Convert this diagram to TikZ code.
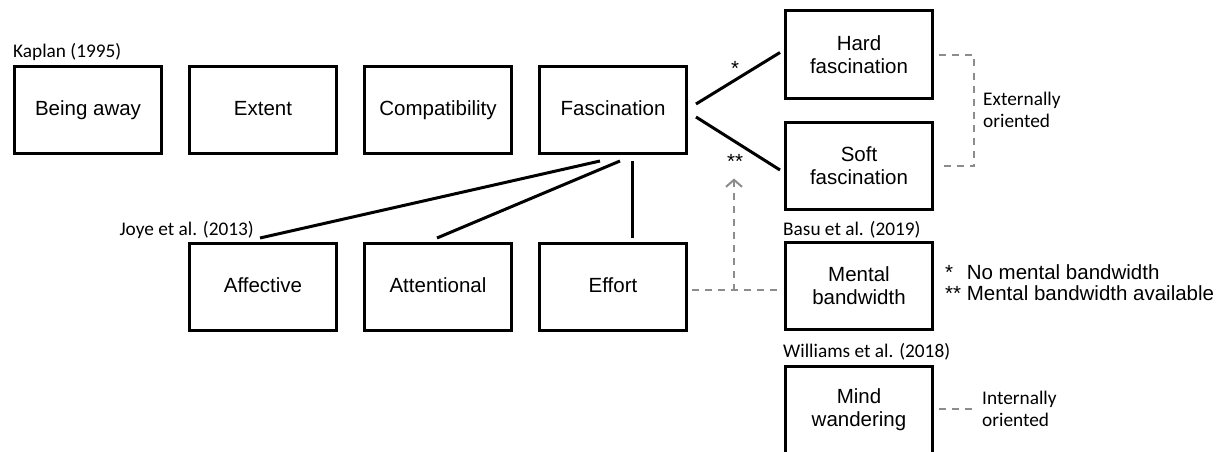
\documentclass[tikz,border=0pt]{standalone}
\usepackage{fontspec}
\setmainfont{Liberation Sans}
\newfontfamily\calfont{Carlito}
\usetikzlibrary{calc,arrows.meta}
\definecolor{dgray}{HTML}{8C8C8C}
\begin{document}
\begin{tikzpicture}[x=1pt,y=-1pt,
  box/.style={draw,line width=3pt,minimum width=147pt,minimum height=87pt,inner sep=0pt,align=center,font=\fontsize{20.5}{23}\selectfont},
  one/.style={text height=15pt,text depth=4pt},
  conn/.style={line width=3pt},
  dsh/.style={draw=dgray,line width=2pt,dash pattern=on 7pt off 6pt},
  lbl/.style={inner sep=0pt,font=\calfont\fontsize{19.3}{22}\selectfont},
  note/.style={inner sep=0pt,font=\fontsize{20.5}{21}\selectfont}]
\useasboundingbox (0,0) rectangle (1220,452);
\clip (0,0) rectangle (1220,452);
% boxes
\node[box,one] (ba) at (88,110) {Being away};
\node[box,one] (ext) at (263,110) {Extent};
\node[box,one] (comp) at (438,110) {Compatibility};
\node[box,one] (fas) at (613,110) {Fascination};
\node[box] (hard) at (859,54.5) {Hard\\fascination};
\node[box] (soft) at (859,166) {Soft\\fascination};
\node[box,one] (aff) at (263,287) {Affective};
\node[box,one] (att) at (438,287) {Attentional};
\node[box,one] (eff) at (613,287) {Effort};
\node[box] (mb) at (859,286) {Mental\\bandwidth};
\node[box] (mw) at (859,410) {Mind\\wandering};
% labels
\node[lbl,anchor=base west] (kap) at (13,58) {Kaplan (1995)};
\node[lbl,anchor=base east] (joy) at (254,235) {Joye et al. (2013)};
\node[lbl,anchor=base west] (bas) at (783,235) {Basu et al. (2019)};
\node[lbl,anchor=base west] (wil) at (783,357) {Williams et al. (2018)};
\node[note,anchor=base] (st1) at (735,75.5) {*};
\node[note,anchor=base] (st2) at (735,168.5) {**};
\node[lbl,anchor=base west,align=left] (exo) at (983,127) {Externally\\oriented};
\node[lbl,anchor=base west,align=left] (intl) at (982,426) {Internally\\oriented};
\node[note,anchor=base west] (n1) at (945,279) {\begin{tabular}[t]{@{}l@{ }l@{}}* & No mental bandwidth\\[0pt]** & Mental bandwidth available\end{tabular}};
% connectors
\draw[conn] ($(fas.east)+(8,-6)$) -- ($(hard.west)+(-4,-2)$);
\draw[conn] ($(fas.east)+(8,7)$) -- ($(soft.west)+(-4,4)$);
\draw[conn] ($(fas.south)+(-13,6)$) -- ($(aff.north)+(-3,-4)$);
\draw[conn] ($(fas.south)+(7,6)$) -- ($(att.north)+(-1,-4)$);
\draw[conn] ($(fas.south)+(19,6)$) -- ($(eff.north)+(19,-4)$);
% dashed
\draw[dsh] ($(hard.east)+(5,1)$) -| ($(soft.east)+(40,0)$) -- ($(soft.east)+(5,0)$);
\draw[dsh] ($(eff.east)+(4,3)$) -- ($(mb.west)+(-4,4)$);
\coordinate (jn) at ($(eff.east)!0.5!(mb.west)+(-2,4)$);
\coordinate (tip) at ($(jn)+(0,-112)$);
\draw[dsh,-{Straight Barb[length=7pt,width=16pt,line width=2pt]}] (jn) -- (tip);
\draw[dsh] ($(mw.east)+(5,-1)$) -- ($(mw.east)+(42,-1)$);
\end{tikzpicture}
\end{document}
